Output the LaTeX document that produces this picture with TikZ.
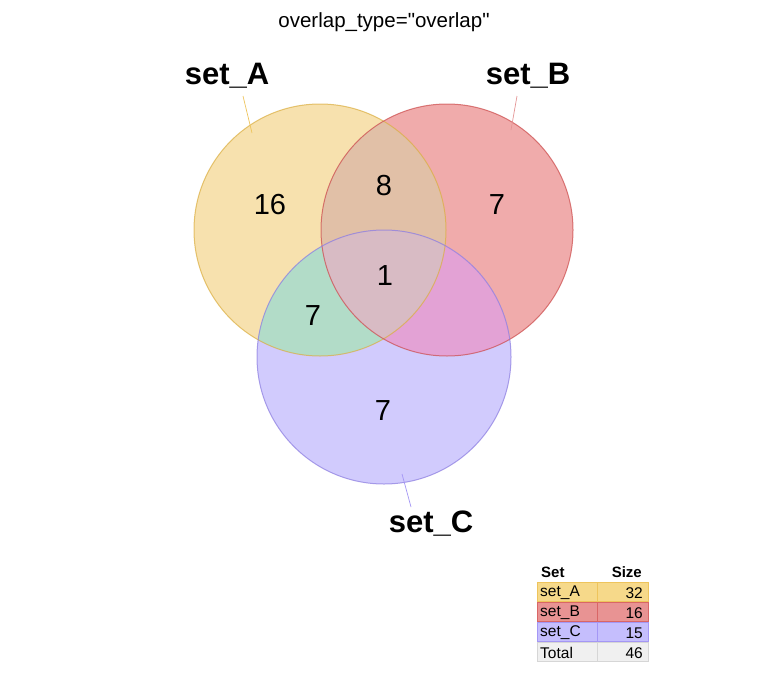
\documentclass[tikz,border=0pt]{standalone}
\usepackage{fontspec}
\setmainfont{Liberation Sans}[Ligatures=TeXOff]
\definecolor{fA}{HTML}{F7E1AE}
\definecolor{fB}{HTML}{F0ABAB}
\definecolor{fC}{HTML}{D1CBFD}
\definecolor{fAB}{HTML}{E1C0A7}
\definecolor{fAC}{HTML}{B2DCC8}
\definecolor{fBC}{HTML}{E3A2D5}
\definecolor{fABC}{HTML}{D8BBC4}
\definecolor{sA}{HTML}{DBAE40}
\definecolor{sB}{HTML}{CC4B4B}
\definecolor{sC}{HTML}{8A7BE0}
\definecolor{tA}{HTML}{F6D98A}
\definecolor{tAb}{HTML}{EEC45C}
\definecolor{tB}{HTML}{E89393}
\definecolor{tBb}{HTML}{D96666}
\definecolor{tC}{HTML}{C5BEFD}
\definecolor{tCb}{HTML}{A497F5}
\definecolor{tT}{HTML}{F0F0F0}
\definecolor{tTb}{HTML}{D6D6D6}
\tikzset{
  num/.style={font=\fontsize{29}{29}\selectfont, text=black},
  setlabel/.style={font=\fontsize{31}{31}\selectfont\bfseries, text=black},
  leader/.style={line width=0.7pt},
  cell/.style={font=\fontsize{15.5}{15.5}\selectfont, text=black, inner sep=0pt},
  headcell/.style={font=\fontsize{15}{15}\selectfont\bfseries, text=black, inner sep=0pt},
  ring/.style={line width=1pt, opacity=0.7},
}
\begin{document}
\begin{tikzpicture}[x=1pt,y=-1pt]
\useasboundingbox (0,0) rectangle (768,672);
\fill[white] (0,0) rectangle (768,672);
\def\cA{(320,230) circle (126)}
\def\cB{(447,230) circle (126)}
\def\cC{(384,357) circle (127)}
% region fills
\fill[fA] \cA;
\fill[fB] \cB;
\fill[fC] \cC;
\begin{scope}\clip \cA; \fill[fAB] \cB; \end{scope}
\begin{scope}\clip \cA; \fill[fAC] \cC; \end{scope}
\begin{scope}\clip \cB; \fill[fBC] \cC; \end{scope}
\begin{scope}\clip \cA; \clip \cB; \fill[fABC] \cC; \end{scope}
% outlines
\draw[ring, sA] \cA;
\draw[ring, sB] \cB;
\draw[ring, sC] \cC;
% numbers
\node[num] (nA) at (270,205) {16};
\node[num] (nAB) at (384,186) {8};
\node[num] (nB) at (497,205) {7};
\node[num] (nABC) at (385,276) {1};
\node[num] (nAC) at (313,316) {7};
\node[num] (nC) at (383,411) {7};
% title
\node[font=\fontsize{20.5}{20.5}\selectfont] (title) at (384,22) {overlap\_type="overlap"};
% set labels
\node[setlabel] (lA) at (227,76) {set\_A};
\node[setlabel] (lB) at (528,76) {set\_B};
\node[setlabel] (lC) at (431,524) {set\_C};
\coordinate (eA) at (252,133);
\coordinate (eB) at (511,130);
\coordinate (eC) at (402,474);
\coordinate (sA0) at (243,96);
\coordinate (sB0) at (517,96);
\coordinate (sC0) at (411,507);
\draw[leader, tAb] (sA0) -- (eA);
\draw[leader, tBb!70] (sB0) -- (eB);
\draw[leader, tCb] (sC0) -- (eC);
% table
\node[headcell, anchor=west] (hSet) at (541,572) {Set};
\node[headcell, anchor=east] (hSize) at (642,572) {Size};
\foreach \y/\fc/\bc/\nm/\val [count=\i] in {582/tA/tAb/set\_A/32, 602/tB/tBb/set\_B/16, 622/tC/tCb/set\_C/15, 642/tT/tTb/Total/46}{
  \draw[fill=\fc, draw=\bc, line width=1pt] (537,\y) rectangle (597,\y+19);
  \draw[fill=\fc, draw=\bc, line width=1pt] (597,\y) rectangle (648,\y+19);
  \node[cell, anchor=west] (r\i a) at (540,\y+11) {\nm};
  \node[cell, anchor=east] (r\i b) at (643,\y+11) {\val};
}
\end{tikzpicture}
\end{document}
